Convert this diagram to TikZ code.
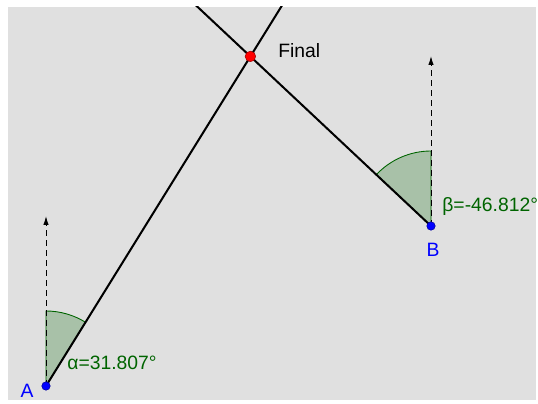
\documentclass[tikz,border=0pt]{standalone}
\usepackage{fontspec}
\setmainfont{Liberation Sans}
\usepackage{xcolor}
\usetikzlibrary{arrows.meta}
\usetikzlibrary{calc, math}
\definecolor{ggray}{RGB}{224,224,224}
\definecolor{ggreen}{RGB}{0,100,0}
\definecolor{gfill}{RGB}{168,193,168}
\definecolor{gblue}{RGB}{0,0,255}
\definecolor{gred}{RGB}{255,0,0}

\begin{document}
\begin{tikzpicture}[x=0.02cm,y=0.02cm,
  lbl/.style={font=\fontsize{11}{13}\selectfont},
  pt/.style={circle,inner sep=0pt,minimum size=4.8pt,draw=#1!60!black,fill=#1,line width=0.3pt},
  ray/.style={color=black,line width=1.15pt},
  dir/.style={dash pattern=on 3.4pt off 2.3pt,line width=0.55pt,-{Latex[length=5pt,width=3pt]}},
  sector/.style={fill=gfill,draw=ggreen,line width=0.5pt}]
\tikzmath{
\al=31.807;
\be=-46.812;
\r=75;
\h=170;
}
\useasboundingbox (0,0) rectangle (538,403);
\fill[ggray] (8,3) rectangle (536,396);

\coordinate (A) at (46,17);
\coordinate (B) at (431,177);
\coordinate (Aend) at ($(A)+(90-\al:500)$);
\coordinate (Bend) at ($(B)+(90-\be:400)$);
\coordinate (Final) at (intersection of A--Aend and B--Bend);
\coordinate (Aup) at ($(A)+(0,\h)$);
\coordinate (Bup) at ($(B)+(0,\h)$);

%angles
\draw[sector] (A) -- ++(0,\r) arc(90:90-\al:\r) -- cycle;
\draw[sector] (B) -- ++(0,\r) arc(90:90-\be:\r) -- cycle;

%directions
\draw[dir] (A) -- (Aup);
\draw[dir] (B) -- (Bup);

%lines
\begin{scope}
\clip (8,3) rectangle (536,396);
\draw[ray] (A) -- (Aend);
\draw[ray] (B) -- (Bend);
\end{scope}

%points
\node[pt=gblue] (dotA) at (A) {};
\node[pt=gblue] (dotB) at (B) {};
\node[pt=gred,minimum size=6pt] (dotF) at (Final) {};

\node[lbl,color=gblue] (labA) at (27,12) {A};
\node[lbl,color=gblue] (labB) at (433,153) {B};
\node[lbl,anchor=west,inner sep=0pt] (labF) at (278,352) {Final};
\node[lbl,color=ggreen,anchor=west,inner sep=0pt] (labal) at (67,40) {α=31.807°};
\node[lbl,color=ggreen,anchor=west,inner sep=0pt] (labbe) at (442,196) {β=-46.812°};
\end{tikzpicture}
\end{document}
